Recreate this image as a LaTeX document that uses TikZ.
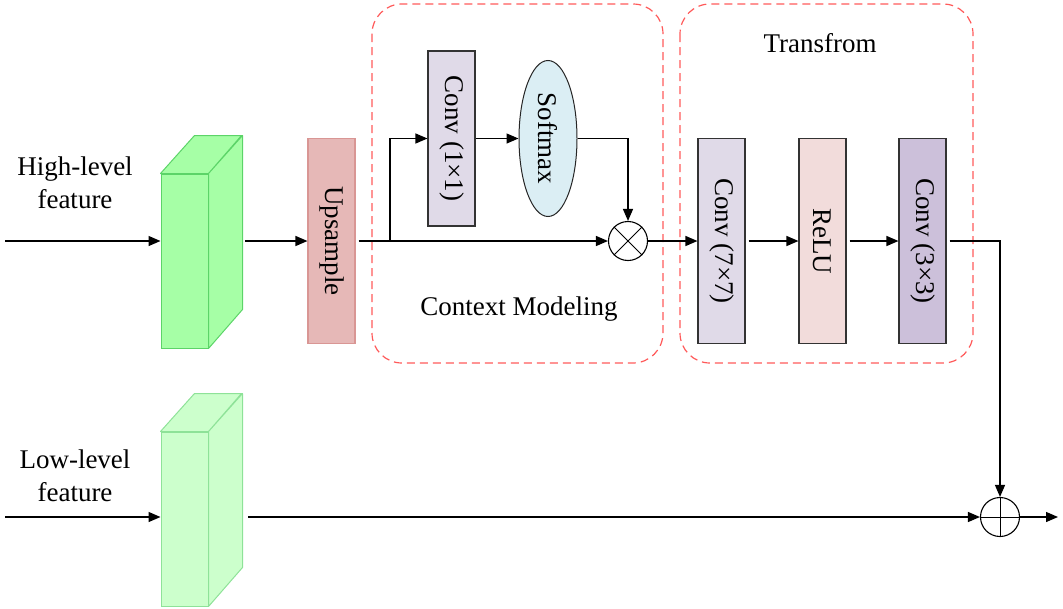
\documentclass[tikz,border=0pt]{standalone}
\usepackage{fontspec}
\setmainfont{Liberation Serif}
\usetikzlibrary{arrows.meta,calc,shapes.geometric}
\definecolor{hiFill}{RGB}{166,255,166}
\definecolor{hiLine}{RGB}{92,212,104}
\definecolor{loFill}{RGB}{204,255,204}
\definecolor{loLine}{RGB}{142,226,152}
\definecolor{upFill}{RGB}{230,184,183}
\definecolor{upLine}{RGB}{217,150,148}
\definecolor{convA}{RGB}{224,218,232}
\definecolor{convB}{RGB}{204,192,218}
\definecolor{reluFill}{RGB}{242,220,219}
\definecolor{smFill}{RGB}{219,238,244}
\definecolor{grpLine}{RGB}{255,90,90}
\tikzset{
  txt/.style={font=\fontsize{27}{33}\selectfont},
  arr/.style={line width=1.3pt,-{Triangle[length=12pt,width=10pt]}},
  % layers are drawn with their text turned clockwise: width runs down the page
  layer/.style={draw=black!80,line width=1.1pt,minimum height=47pt,inner sep=0pt,txt,rotate=-90},
  grp/.style={draw=grpLine,dash pattern=on 8pt off 5pt,line width=1.2pt,rounded corners=30pt},
  op/.style={circle,draw,line width=1.1pt,minimum size=39pt,inner sep=0pt},
}
\begin{document}
\begin{tikzpicture}[x=1pt,y=-1pt]
\useasboundingbox (0,0) rectangle (1063,608);

% grouping frames
\draw[grp] (372,4) rectangle (663,363);
\draw[grp] (680,4) rectangle (973,363);
\node[txt] (tflabel) at (820,43) {Transfrom};
\node[txt] (cmlabel) at (519,309) {Context Modeling};

% input labels
\node[txt,align=center] (hilabel) at (75,183) {High-level\\feature};
\node[txt,align=center] (lolabel) at (75,476) {Low-level\\feature};

% feature cuboids
\node[draw=hiLine,fill=hiFill,line width=1pt,minimum width=47pt,minimum height=174pt,inner sep=0pt] (hf) at (184.5,261) {};
\filldraw[draw=hiLine,fill=hiFill,line width=1pt,line join=round]
  (hf.north west) -- ++(34,-38) -- ++(47,0) -- (hf.north east) -- cycle
  (hf.north east) -- ++(34,-38) -- ++(0,174) -- (hf.south east) -- cycle;
\node[draw=loLine,fill=loFill,line width=1pt,minimum width=47pt,minimum height=174pt,inner sep=0pt] (lf) at (184.5,519) {};
\filldraw[draw=loLine,fill=loFill,line width=1pt,line join=round]
  (lf.north west) -- ++(34,-38) -- ++(47,0) -- (lf.north east) -- cycle
  (lf.north east) -- ++(34,-38) -- ++(0,174) -- (lf.south east) -- cycle;

% layers
\node[layer,draw=upLine,fill=upFill,minimum width=205pt] (up) at (331.5,241) {Upsample};
\node[layer,fill=convA,minimum width=175pt] (c1) at (451.5,138.5) {Conv (1×1)};
\node[ellipse,draw=black!85,line width=1pt,fill=smFill,minimum width=58pt,minimum height=156pt,inner sep=0pt] (sm) at (548,138.5) {};
\node[txt,rotate=-90] (smtext) at (sm.center) {Softmax};
\node[op] (mul) at (628,241) {};
\draw[line width=1pt] (mul.north west) -- (mul.south east) (mul.north east) -- (mul.south west);
\node[layer,fill=convA,minimum width=205pt] (c7) at (721.5,241) {Conv (7×7)};
\node[layer,fill=reluFill,minimum width=205pt] (relu) at (822.5,241) {ReLU};
\node[layer,fill=convB,minimum width=205pt] (c3) at (922.5,241) {Conv (3×3)};
\node[op] (add) at (1000,517) {};
\draw[line width=1pt] (add.north) -- (add.south) (add.west) -- (add.east);

% connectors
\coordinate (inH) at (5,241);
\coordinate (hout) at (245,241);
\coordinate (br) at (390,241);
\coordinate (inL) at (5,517);
\coordinate (lout) at (248,517);
\coordinate (outp) at (1058,517);

\draw[arr] (inH) -- (inH -| hf.west);
\draw[arr] (hout) -- (hout -| up.south);
\draw[arr] ([xshift=3pt]up.north) -- (mul.west);
\draw[arr] (br) |- (c1.south);
\draw[arr] (c1.north) -- (sm.west);
\draw[arr] (sm.east) -| (mul.north);
\draw[arr] (mul.east) -- (c7.south);
\draw[arr] ([xshift=3pt]c7.north) -- (relu.south);
\draw[arr] ([xshift=3pt]relu.north) -- (c3.south);
\draw[arr] ([xshift=3pt]c3.north) -| (add.north);
\draw[arr] (inL) -- (inL -| lf.west);
\draw[arr] (lout) -- (add.west);
\draw[arr] (add.east) -- (outp);
\end{tikzpicture}
\end{document}
